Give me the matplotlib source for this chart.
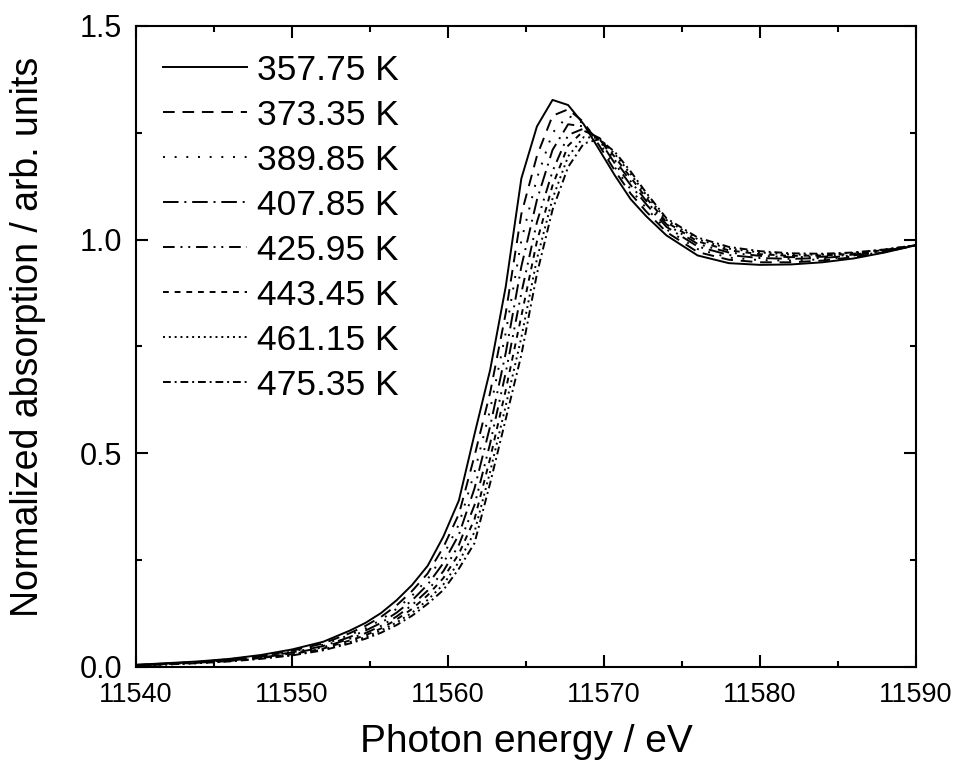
import matplotlib
matplotlib.use('Agg')
import matplotlib.pyplot as plt
from matplotlib.ticker import MultipleLocator, FormatStrFormatter

# photon energy grid (eV)
energy = [11540, 11542, 11544, 11546, 11548, 11550, 11552, 11553.7, 11554.7,
          11555.7, 11556.7, 11557.7, 11558.7, 11559.7, 11560.7, 11561.7,
          11562.7, 11563.7, 11564.7, 11565.7, 11566.7, 11567.7, 11568.7,
          11569.7, 11570.7, 11571.7, 11572.7, 11574, 11576, 11578, 11580,
          11582, 11584, 11586, 11588, 11590]

labels = ['357.75 K', '373.35 K', '389.85 K', '407.85 K',
          '425.95 K', '443.45 K', '461.15 K', '475.35 K']

mu_357 = [0.005, 0.009, 0.013, 0.019, 0.028, 0.041, 0.059, 0.085, 0.103,
          0.126, 0.156, 0.192, 0.237, 0.305, 0.390, 0.545, 0.695, 0.890,
          1.143, 1.265, 1.327, 1.315, 1.270, 1.210, 1.150, 1.095, 1.055,
          1.010, 0.963, 0.945, 0.941, 0.942, 0.947, 0.956, 0.970, 0.987]
mu_373 = [0.005, 0.008, 0.012, 0.018, 0.026, 0.038, 0.055, 0.079, 0.096,
          0.117, 0.144, 0.178, 0.219, 0.280, 0.358, 0.494, 0.642, 0.828,
          1.060, 1.196, 1.290, 1.305, 1.275, 1.220, 1.161, 1.108, 1.066,
          1.018, 0.971, 0.953, 0.947, 0.947, 0.951, 0.959, 0.971, 0.987]
mu_390 = [0.004, 0.008, 0.012, 0.017, 0.025, 0.036, 0.052, 0.075, 0.090,
          0.110, 0.136, 0.167, 0.206, 0.261, 0.334, 0.456, 0.602, 0.782,
          0.998, 1.144, 1.250, 1.290, 1.272, 1.228, 1.169, 1.118, 1.074,
          1.024, 0.978, 0.958, 0.952, 0.951, 0.954, 0.961, 0.972, 0.987]
mu_408 = [0.004, 0.008, 0.011, 0.016, 0.024, 0.034, 0.049, 0.070, 0.085,
          0.103, 0.127, 0.156, 0.193, 0.243, 0.310, 0.418, 0.563, 0.735,
          0.937, 1.093, 1.210, 1.270, 1.265, 1.233, 1.178, 1.128, 1.083,
          1.030, 0.984, 0.964, 0.957, 0.955, 0.957, 0.963, 0.974, 0.987]
mu_426 = [0.004, 0.007, 0.010, 0.015, 0.022, 0.032, 0.046, 0.066, 0.079,
          0.096, 0.118, 0.145, 0.179, 0.224, 0.286, 0.379, 0.523, 0.689,
          0.875, 1.041, 1.160, 1.245, 1.260, 1.236, 1.186, 1.137, 1.091,
          1.036, 0.990, 0.970, 0.962, 0.959, 0.960, 0.965, 0.975, 0.987]
mu_443 = [0.003, 0.007, 0.010, 0.014, 0.021, 0.030, 0.043, 0.062, 0.074,
          0.090, 0.111, 0.136, 0.168, 0.208, 0.265, 0.346, 0.488, 0.648,
          0.821, 0.996, 1.127, 1.220, 1.255, 1.238, 1.193, 1.146, 1.098,
          1.041, 0.996, 0.975, 0.966, 0.962, 0.963, 0.967, 0.976, 0.987]
mu_461 = [0.003, 0.006, 0.009, 0.014, 0.020, 0.028, 0.041, 0.058, 0.070,
          0.085, 0.104, 0.127, 0.157, 0.193, 0.246, 0.316, 0.457, 0.611,
          0.771, 0.955, 1.096, 1.195, 1.240, 1.238, 1.200, 1.154, 1.105,
          1.046, 1.001, 0.979, 0.970, 0.965, 0.965, 0.969, 0.977, 0.987]
mu_475 = [0.003, 0.006, 0.009, 0.013, 0.019, 0.027, 0.039, 0.055, 0.066,
          0.080, 0.098, 0.120, 0.148, 0.180, 0.230, 0.290, 0.430, 0.580,
          0.730, 0.920, 1.070, 1.170, 1.225, 1.235, 1.205, 1.160, 1.110,
          1.050, 1.005, 0.983, 0.973, 0.968, 0.967, 0.970, 0.977, 0.987]

series = [mu_357, mu_373, mu_390, mu_408, mu_426, mu_443, mu_461, mu_475]
styles = ['-', (0, (6, 4)), (0, (1, 5)), (0, (8, 3, 1, 3)),
          (0, (6, 3, 1, 3, 1, 3)), (0, (3, 3)), (0, (1, 2)), (0, (4, 2, 1, 2))]

fig = plt.figure(figsize=(9.55, 7.6), dpi=100)
ax = fig.add_axes([0.1424, 0.1224, 0.8168, 0.8434])

for y, lab, ls in zip(series, labels, styles):
    ax.plot(energy, y, color='black', lw=1.4, ls=ls, label=lab)

ax.set_xlim(11540, 11590)
ax.set_ylim(0, 1.5)
ax.xaxis.set_major_locator(MultipleLocator(10))
ax.xaxis.set_minor_locator(MultipleLocator(5))
ax.yaxis.set_major_locator(MultipleLocator(0.5))
ax.yaxis.set_minor_locator(MultipleLocator(0.25))
ax.yaxis.set_major_formatter(FormatStrFormatter('%.1f'))

for s in ax.spines.values():
    s.set_linewidth(1.5)
ax.tick_params(which='both', direction='in', top=True, right=True, width=1.5)
ax.tick_params(which='major', length=8.5)
ax.tick_params(which='minor', length=4)
ax.tick_params(axis='x', pad=11)
ax.tick_params(axis='y', pad=10)
for t in ax.get_xticklabels():
    t.set_family('Liberation Sans')
    t.set_fontsize(19.5)
for t in ax.get_yticklabels():
    t.set_family('Liberation Sans')
    t.set_fontsize(22)

ax.set_xlabel('Photon energy / eV', family='Liberation Sans', fontsize=28, labelpad=11)
ax.set_ylabel('Normalized absorption / arb. units', family='Liberation Sans', fontsize=27)
ax.yaxis.set_label_coords(-0.115, 0.515)

ax.legend(loc='upper left', bbox_to_anchor=(0.035, 0.957), frameon=False,
          prop={'family': 'Liberation Sans', 'size': 25.5},
          handlelength=2.35, handletextpad=0.3, labelspacing=0.34,
          borderpad=0, borderaxespad=0)

fig.savefig('out.png', dpi=100)
